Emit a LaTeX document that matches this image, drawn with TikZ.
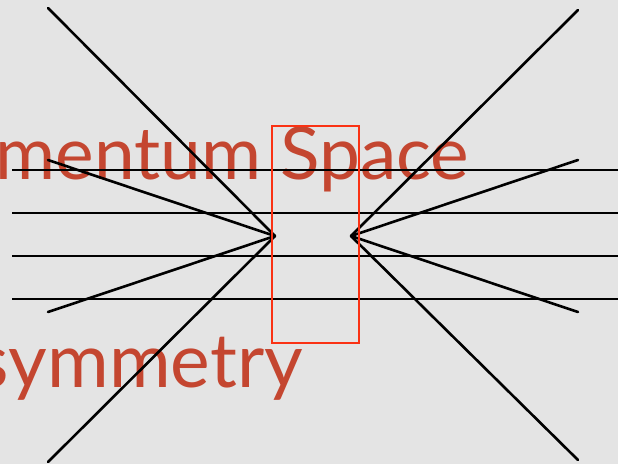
\documentclass[tikz,border=0pt]{standalone}
\usepackage{fontspec}
\setmainfont{Lato}
\definecolor{bg}{RGB}{228,228,228}
\definecolor{titlered}{RGB}{196,70,48}
\definecolor{boxred}{RGB}{250,50,20}
\begin{document}
\begin{tikzpicture}[x=1pt,y=-1pt,
  hline/.style={black,line width=1.8pt},
  ray/.style={black,line width=2.6pt,line cap=round},
  title/.style={text=titlered,inner sep=0pt,anchor=base east}]
\useasboundingbox (0,0) rectangle (618,464);
\fill[bg] (0,0) rectangle (618,464);
\clip (0,0) rectangle (618,464);
\node[title,font=\fontsize{73}{73}\selectfont] (t1) at (469,179) {mentum Space};
\node[title,font=\fontsize{75}{75}\selectfont] (t2) at (303,387) {symmetry};
% horizontal lines
\foreach \y/\n in {170/a,213/b,256/c,299/d}{
  \coordinate (h\n L) at (12,\y);
  \coordinate (h\n R) at (620,\y);
  \draw[hline] (h\n L) -- (h\n R);
}
% apexes
\coordinate (L) at (275,236);
\coordinate (R) at (351,236);
\coordinate (L1) at (48,8);
\coordinate (L2) at (48,160);
\coordinate (L3) at (48,312);
\coordinate (L4) at (48,462);
\coordinate (R1) at (578,10);
\coordinate (R2) at (578,160);
\coordinate (R3) at (578,312);
\coordinate (R4) at (578,460);
\foreach \i in {1,...,4}{
  \draw[ray] (L) -- (L\i);
  \draw[ray] (R) -- (R\i);
}
\node[draw=boxred,line width=1.5pt,minimum width=87pt,minimum height=217pt,inner sep=0pt] (box) at (315.5,234.5) {};
\end{tikzpicture}
\end{document}
